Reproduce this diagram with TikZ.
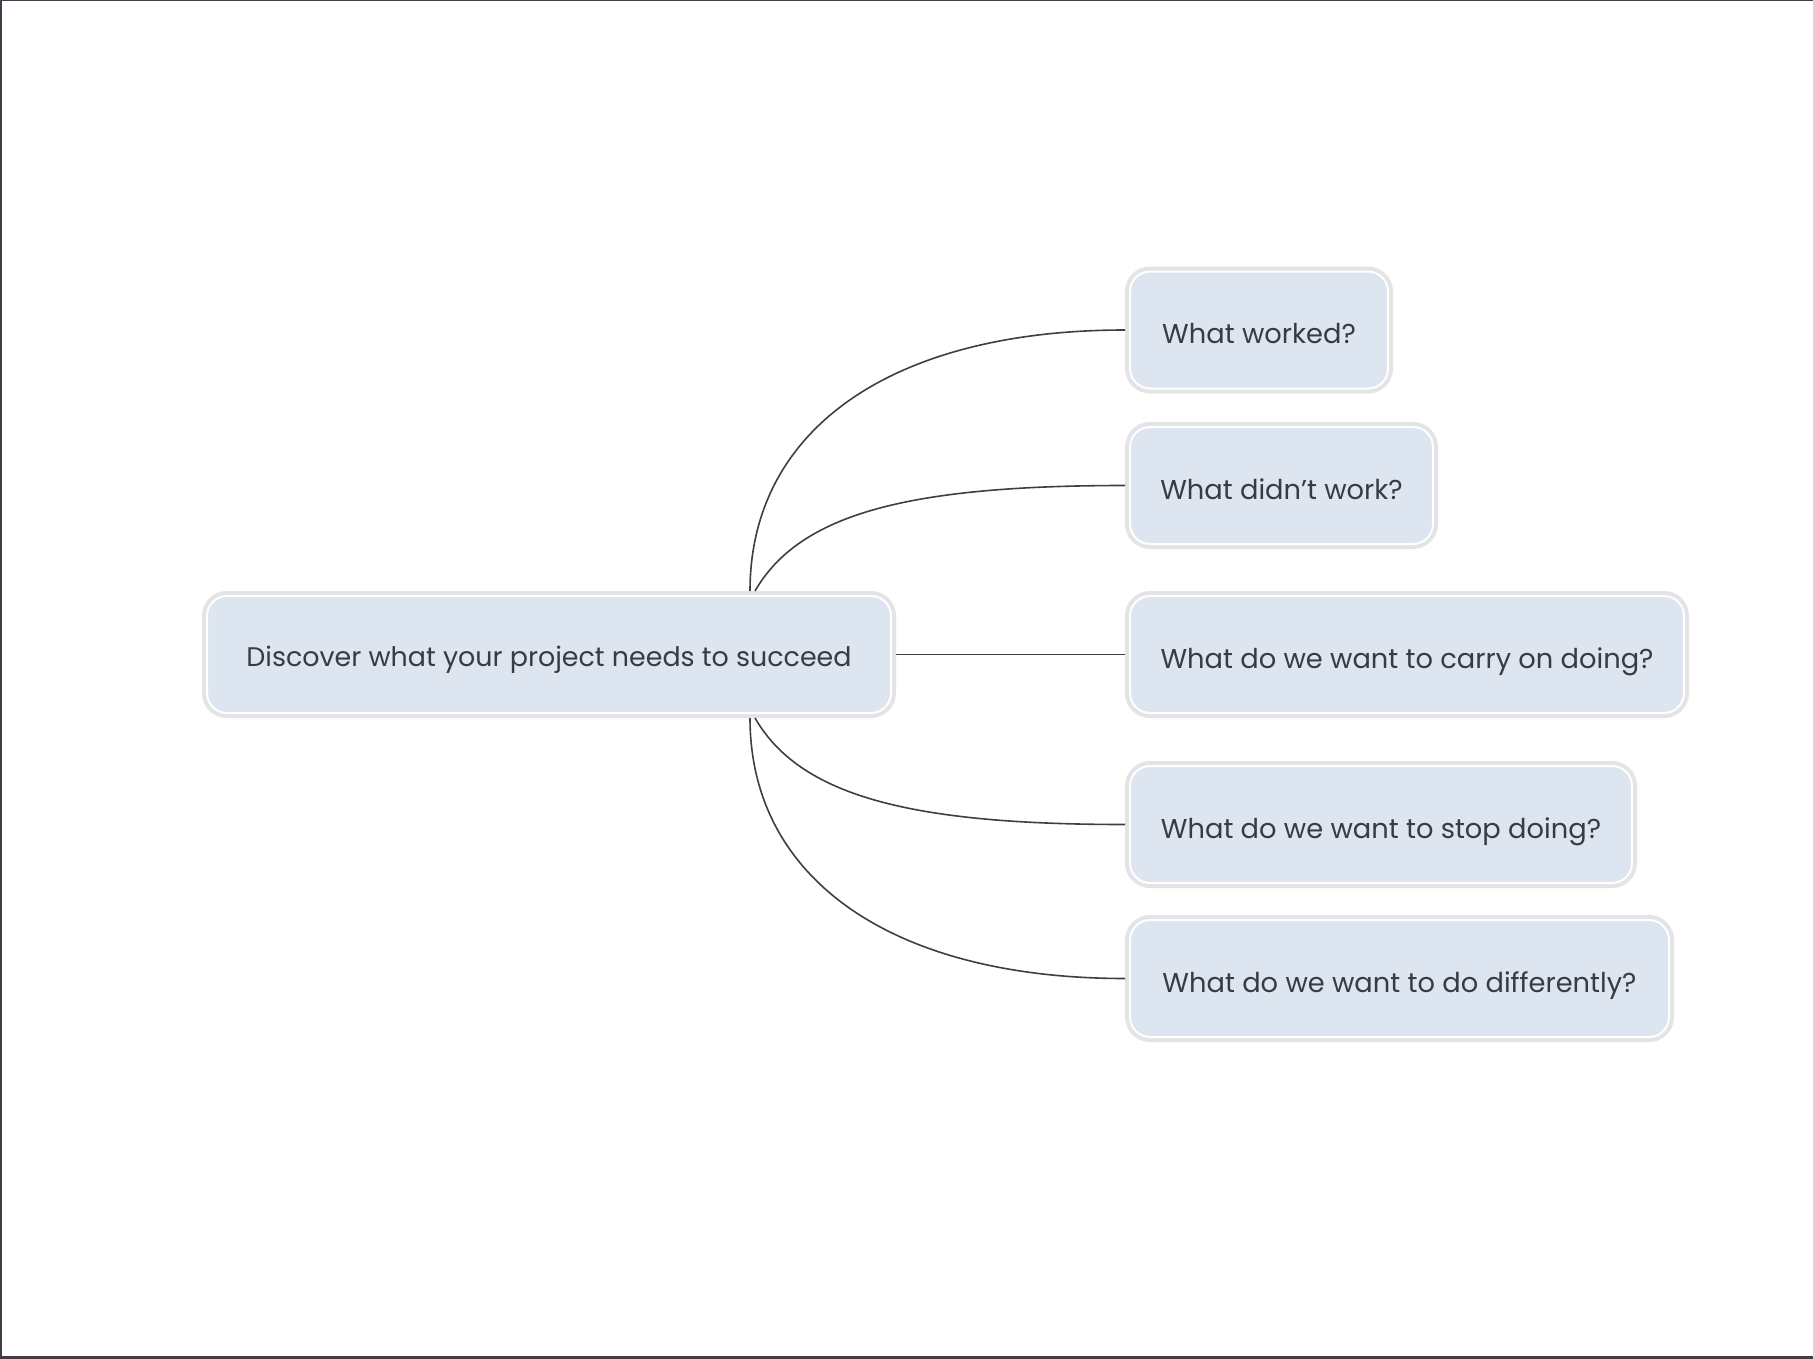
\documentclass[tikz,border=0pt]{standalone}
\usepackage{fontspec}
\setmainfont{Poppins}
\definecolor{boxfill}{HTML}{DCE5F0}
\definecolor{ringgray}{HTML}{E4E4E4}
\definecolor{linecol}{HTML}{3C3F47}
\definecolor{textcol}{HTML}{383B44}
\definecolor{framecol}{HTML}{3B3F4A}
\definecolor{framelight}{HTML}{D8D8D8}
\tikzset{
  topic/.style={rectangle, rounded corners=20pt, fill=boxfill, draw=white, line width=2pt,
    preaction={draw=ringgray, line width=10pt},
    outer sep=5pt, inner sep=0pt, minimum height=117pt,
    text height=27pt, text depth=0pt,
    text=textcol, font=\fontsize{27.3}{32}\selectfont, align=center},
  maintopic/.style={topic, text height=24pt, font=\fontsize{26.9}{32}\selectfont},
  link/.style={draw=linecol, line width=1.6pt}
}
\begin{document}
\begin{tikzpicture}[x=1pt,y=-1pt]
\useasboundingbox (0,0) rectangle (1815,1359);
\fill[white] (0,0) rectangle (1815,1359);
\draw[framecol, line width=3pt] (0,1357.5) -- (0,0) -- (1815,0);
\draw[framecol, line width=3pt] (0,1357.5) -- (1815,1357.5);
\draw[framelight, line width=1.5pt] (1814.2,0) -- (1814.2,1359);

\node[maintopic, minimum width=684pt] (c) at (549,654.5) {Discover what your project needs to succeed};
\node[topic, minimum width=258pt] (n1) at (1259,330) {What worked?};
\node[topic, minimum width=303pt] (n2) at (1281.5,485.5) {What didn’t work?};
\node[topic, minimum width=554pt] (n3) at (1407,654.5) {What do we want to carry on doing?};
\node[topic, minimum width=502pt] (n4) at (1381,824.5) {What do we want to stop doing?};
\node[topic, minimum width=539pt] (n5) at (1399.5,978.5) {What do we want to do differently?};

\draw[link] ([xshift=201pt]c.north) .. controls (750,429) and (892,330) .. (n1.west);
\draw[link] ([xshift=206pt]c.north) .. controls (800,513) and (910,485.5) .. (n2.west);
\draw[link] (c.east) -- (n3.west);
\draw[link] ([xshift=206pt]c.south) .. controls (800,796) and (910,824.5) .. (n4.west);
\draw[link] ([xshift=201pt]c.south) .. controls (750,879) and (892,978.5) .. (n5.west);
\end{tikzpicture}
\end{document}
